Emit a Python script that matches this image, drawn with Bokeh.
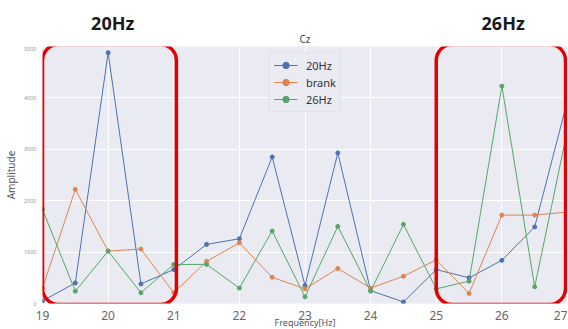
from bokeh.plotting import figure
from bokeh.layouts import column
from bokeh.models import Range1d, FixedTicker, BoxAnnotation
from bokeh.core.properties import value
from bokeh.embed import file_html
from bokeh.resources import INLINE

freq = [19.0, 19.5, 20.0, 20.5, 21.0, 21.5, 22.0, 22.5, 23.0, 23.5, 24.0, 24.5, 25.0, 25.5, 26.0, 26.5, 27.0]
hz20 = [50, 400, 4880, 380, 660, 1150, 1260, 2850, 350, 2930, 250, 30, 660, 500, 840, 1490, 3950]
brank = [300, 2220, 1020, 1060, 210, 820, 1180, 510, 285, 680, 300, 530, 850, 195, 1720, 1720, 1780]
hz26 = [1830, 240, 1020, 210, 760, 760, 300, 1410, 130, 1500, 240, 1540, 285, 435, 4230, 325, 3380]
series_names = ["20Hz", "brank", "26Hz"]
series_colors = ["#4C72B0", "#DD8452", "#55A868"]
x_ticks = [19, 20, 21, 22, 23, 24, 25, 26, 27]
y_ticks = [0, 1000, 2000, 3000, 4000, 5000]
highlight_labels = ["20Hz", "26Hz"]
chart_title = "Cz"

TFONT = "Noto Sans"

xr = Range1d(19, 27)

# ---- header strip: highlight captions and chart title ----
top = figure(frame_width=525, frame_height=46, output_backend="svg", toolbar_location=None,
             x_range=xr, y_range=Range1d(0, 1), x_axis_location=None, y_axis_location=None,
             min_border_left=35, min_border_right=0, min_border_top=0, min_border_bottom=0)
top.xgrid.visible = False
top.ygrid.visible = False
top.outline_line_color = None
top.background_fill_color = "white"
top.border_fill_color = "white"
top.text(x=[20.07, 26.02], y=[0.52, 0.52], text=highlight_labels,
         text_align="center", text_baseline="middle",
         text_font=value(TFONT), text_font_style="bold", text_font_size=value("18px"),
         text_color="#1a1a1a")
top.text(x=[23.0], y=[0.17], text=[chart_title],
         text_align="center", text_baseline="middle",
         text_font=value(TFONT), text_font_size=value("10px"), text_color="#444444")

# ---- main chart ----
p = figure(frame_width=525, frame_height=257, output_backend="svg", toolbar_location=None,
           x_range=xr, y_range=Range1d(0, 5000),
           min_border_left=35, min_border_right=0, min_border_top=0, min_border_bottom=0)
p.background_fill_color = "#EAEAF2"
p.border_fill_color = "white"
p.outline_line_color = None

for ax in (p.xaxis[0], p.yaxis[0]):
    ax.axis_line_color = None
    ax.major_tick_line_color = None
    ax.minor_tick_line_color = None
    ax.major_tick_out = 0
    ax.major_tick_in = 0
    ax.minor_tick_out = 0
    ax.minor_tick_in = 0
    ax.major_label_text_font = TFONT
    ax.axis_label_text_font = TFONT
    ax.axis_label_text_font_style = "normal"
    ax.axis_label_text_color = "#555555"

p.xaxis.ticker = FixedTicker(ticks=x_ticks)
p.yaxis.ticker = FixedTicker(ticks=y_ticks)
p.xaxis.major_label_text_font_size = "12px"
p.xaxis.major_label_text_color = "#666666"
p.xaxis.major_label_standoff = 7
p.xaxis.axis_label = "Frequency[Hz]"
p.xaxis.axis_label_text_font_size = "9px"
p.xaxis.axis_label_standoff = -7
p.yaxis.major_label_text_font_size = "5.5px"
p.yaxis.major_label_text_color = "#999999"
p.yaxis.major_label_standoff = 6
p.yaxis.axis_label = "Amplitude"
p.yaxis.axis_label_text_font_size = "10px"
p.yaxis.axis_label_standoff = 3

p.xgrid.grid_line_color = "white"
p.ygrid.grid_line_color = "white"
p.xgrid.grid_line_width = 1
p.ygrid.grid_line_width = 1

for name, ys, col in zip(series_names, [hz20, brank, hz26], series_colors):
    p.line(freq, ys, line_color=col, line_width=1, legend_label=name)
    p.scatter(freq, ys, size=4, fill_color=col, line_color=col, legend_label=name)

leg = p.legend[0]
leg.location = "top_center"
leg.background_fill_color = "#EAEAF2"
leg.background_fill_alpha = 0.8
leg.border_line_color = "#D8D8DE"
leg.label_text_font = TFONT
leg.label_text_font_size = "11px"
leg.label_text_color = "#333333"
leg.glyph_width = 24
leg.label_height = 16
leg.glyph_height = 16
leg.label_standoff = 9
leg.spacing = 1
leg.padding = 4
leg.margin = 6

box1 = BoxAnnotation(left=19.0, right=21.04, bottom=-20, top=5040,
                     fill_alpha=0, line_color="#E50000", line_alpha=1.0, line_width=3.5,
                     border_radius=16)
box2 = BoxAnnotation(left=25.0, right=26.97, bottom=-20, top=5040,
                     fill_alpha=0, line_color="#E50000", line_alpha=1.0, line_width=3.5,
                     border_radius=16)
p.add_layout(box1)
p.add_layout(box2)

layout = column(top, p, spacing=0)
open("out.html", "w").write(file_html(layout, INLINE))
